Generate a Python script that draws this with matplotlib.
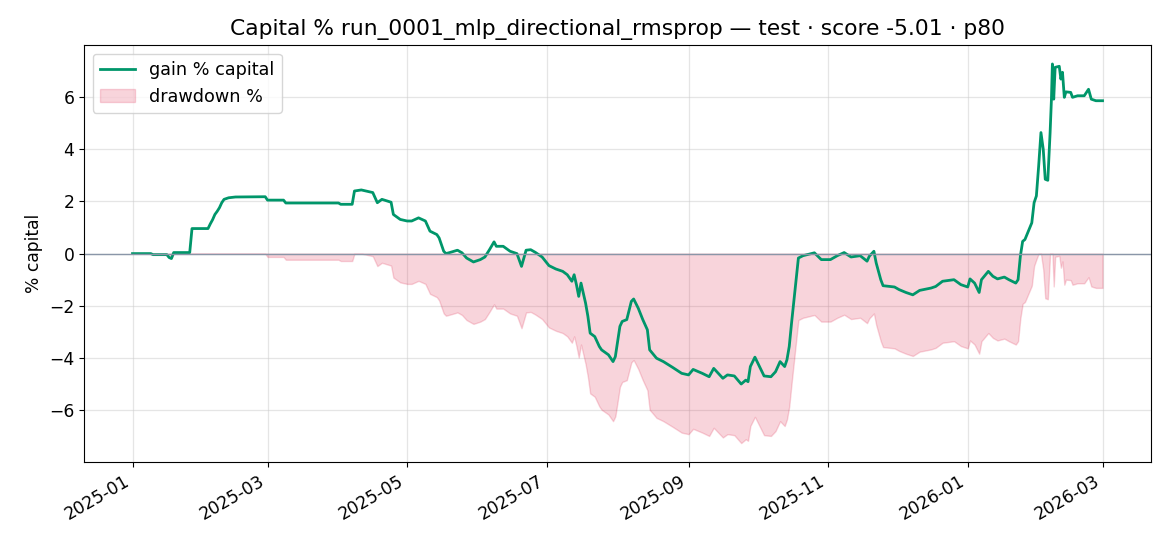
import numpy as np
import pandas as pd
import matplotlib
matplotlib.use("Agg")
import matplotlib.pyplot as plt
import matplotlib.dates as mdates

dates = [
    "2025-01-01", "2025-01-09", "2025-01-10", "2025-01-16", "2025-01-17", "2025-01-18",
    "2025-01-19", "2025-01-26", "2025-01-27", "2025-02-03", "2025-02-04", "2025-02-05",
    "2025-02-06", "2025-02-07", "2025-02-08", "2025-02-09", "2025-02-10", "2025-02-12",
    "2025-02-15", "2025-02-28", "2025-03-01", "2025-03-08", "2025-03-09", "2025-04-01",
    "2025-04-02", "2025-04-07", "2025-04-08", "2025-04-11", "2025-04-13", "2025-04-16",
    "2025-04-18", "2025-04-20", "2025-04-24", "2025-04-25", "2025-04-28", "2025-05-01",
    "2025-05-03", "2025-05-06", "2025-05-09", "2025-05-11", "2025-05-14", "2025-05-15",
    "2025-05-17", "2025-05-18", "2025-05-20", "2025-05-23", "2025-05-25", "2025-05-27",
    "2025-05-30", "2025-06-02", "2025-06-04", "2025-06-06", "2025-06-08", "2025-06-09",
    "2025-06-12", "2025-06-15", "2025-06-18", "2025-06-20", "2025-06-22", "2025-06-24",
    "2025-06-26", "2025-06-29", "2025-07-02", "2025-07-05", "2025-07-08", "2025-07-10",
    "2025-07-12", "2025-07-13", "2025-07-14", "2025-07-15", "2025-07-16", "2025-07-18",
    "2025-07-19", "2025-07-20", "2025-07-22", "2025-07-24", "2025-07-25", "2025-07-28",
    "2025-07-30", "2025-07-31", "2025-08-02", "2025-08-03", "2025-08-05", "2025-08-07",
    "2025-08-08", "2025-08-10", "2025-08-12", "2025-08-14", "2025-08-15", "2025-08-18",
    "2025-08-21", "2025-08-25", "2025-08-29", "2025-09-01", "2025-09-03", "2025-09-07",
    "2025-09-10", "2025-09-12", "2025-09-14", "2025-09-16", "2025-09-18", "2025-09-21",
    "2025-09-24", "2025-09-26", "2025-09-27", "2025-09-28", "2025-09-30", "2025-10-02",
    "2025-10-04", "2025-10-07", "2025-10-09", "2025-10-11", "2025-10-13", "2025-10-14",
    "2025-10-15", "2025-10-16", "2025-10-18", "2025-10-19", "2025-10-21", "2025-10-26",
    "2025-10-29", "2025-11-02", "2025-11-05", "2025-11-08", "2025-11-11", "2025-11-15",
    "2025-11-18", "2025-11-19", "2025-11-21", "2025-11-22", "2025-11-24", "2025-11-25",
    "2025-11-30", "2025-12-02", "2025-12-05", "2025-12-08", "2025-12-11", "2025-12-16",
    "2025-12-18", "2025-12-21", "2025-12-26", "2025-12-29", "2026-01-01", "2026-01-02",
    "2026-01-04", "2026-01-06", "2026-01-07", "2026-01-10", "2026-01-12", "2026-01-14",
    "2026-01-17", "2026-01-19", "2026-01-22", "2026-01-23", "2026-01-24", "2026-01-25",
    "2026-01-26", "2026-01-29", "2026-01-30", "2026-01-31", "2026-02-01", "2026-02-02",
    "2026-02-03 00:00", "2026-02-03 21:00", "2026-02-05 00:00", "2026-02-06 00:00",
    "2026-02-06 14:00", "2026-02-07 00:00", "2026-02-07 14:00", "2026-02-08 05:00",
    "2026-02-10 00:00", "2026-02-10 17:00", "2026-02-11 10:00", "2026-02-12 05:00",
    "2026-02-12 22:00", "2026-02-15 00:00", "2026-02-15 19:00", "2026-02-18 00:00",
    "2026-02-20 22:00", "2026-02-22 19:00", "2026-02-24 00:00", "2026-02-26 00:00",
    "2026-02-28 22:00",
]

gain_pct = [
    0.00, 0.00, -0.04, -0.04, -0.15, -0.19,
    0.04, 0.04, 0.96, 0.96, 1.14, 1.30,
    1.50, 1.62, 1.76, 1.95, 2.08, 2.14,
    2.17, 2.18, 2.05, 2.05, 1.94, 1.94,
    1.89, 1.89, 2.40, 2.44, 2.40, 2.34,
    1.95, 2.08, 1.97, 1.50, 1.31, 1.25,
    1.25, 1.37, 1.25, 0.86, 0.73, 0.60,
    0.09, 0.00, 0.05, 0.13, 0.03, -0.17,
    -0.32, -0.23, -0.13, 0.15, 0.45, 0.28,
    0.28, 0.09, 0.00, -0.49, 0.13, 0.15,
    0.05, -0.13, -0.46, -0.59, -0.68, -0.81,
    -1.06, -0.81, -1.19, -1.64, -1.13, -1.90,
    -2.40, -3.05, -3.18, -3.56, -3.69, -3.88,
    -4.14, -3.95, -2.79, -2.60, -2.53, -1.83,
    -1.74, -2.09, -2.53, -2.92, -3.69, -4.01,
    -4.14, -4.36, -4.59, -4.65, -4.44, -4.59,
    -4.72, -4.40, -4.59, -4.78, -4.65, -4.69,
    -5.00, -4.85, -4.91, -4.33, -3.97, -4.33,
    -4.69, -4.72, -4.53, -4.14, -4.33, -4.07,
    -3.56, -2.67, -1.00, -0.17, -0.08, 0.03,
    -0.23, -0.23, -0.08, 0.04, -0.13, -0.08,
    -0.29, -0.10, 0.09, -0.36, -1.00, -1.23,
    -1.28, -1.38, -1.49, -1.58, -1.41, -1.32,
    -1.26, -1.06, -1.00, -1.19, -1.28, -0.97,
    -1.13, -1.49, -1.00, -0.68, -0.87, -0.97,
    -0.90, -1.00, -1.13, -1.00, -0.10, 0.47,
    0.54, 1.18, 1.95, 2.21, 3.36, 4.64,
    4.00, 2.85, 2.81, 4.64,
    5.92, 7.27, 5.92, 7.14,
    7.18, 6.69, 6.95, 5.99,
    6.20, 6.18, 5.99, 6.05,
    6.05, 6.30, 5.92, 5.86,
    5.86,
]

t = pd.to_datetime(dates, format="ISO8601")
g = np.array(gain_pct)
peak = np.maximum.accumulate(np.maximum(g, 0.0))
drawdown_pct = ((1 + g / 100.0) / (1 + peak / 100.0) - 1) * 100.0

fig = plt.figure(figsize=(11.7, 5.46), dpi=100)
ax = fig.add_axes([0.0718, 0.1538, 0.912, 0.7638])

h_fill = ax.fill_between(t, drawdown_pct, 0, color="crimson", alpha=0.18,
                         label="drawdown %", lw=1)
h_line, = ax.plot(t, g, color="#00966a", lw=2.0, label="gain % capital")
ax.axhline(0, color="#8a96a8", lw=1.0)
ax.grid(True, color="#cccccc", alpha=0.5, lw=0.9)
ax.set_axisbelow(True)

ax.set_title("Capital % run_0001_mlp_directional_rmsprop \u2014 test \u00b7 score -5.01 \u00b7 p80",
             fontsize=15.7, pad=7)
ax.set_ylabel("% capital", fontsize=12.3)
ax.tick_params(labelsize=12.3)
ax.xaxis.set_major_locator(mdates.MonthLocator(bymonth=[1, 3, 5, 7, 9, 11]))
ax.xaxis.set_major_formatter(mdates.DateFormatter("%Y-%m"))
for lbl in ax.get_xticklabels():
    lbl.set_rotation(30)
    lbl.set_ha("right")
ax.set_yticks([-6, -4, -2, 0, 2, 4, 6])

ax.legend([h_line, h_fill], ["gain % capital", "drawdown %"], loc="upper left", fontsize=12.7)

fig.savefig("out.png", dpi=100)
